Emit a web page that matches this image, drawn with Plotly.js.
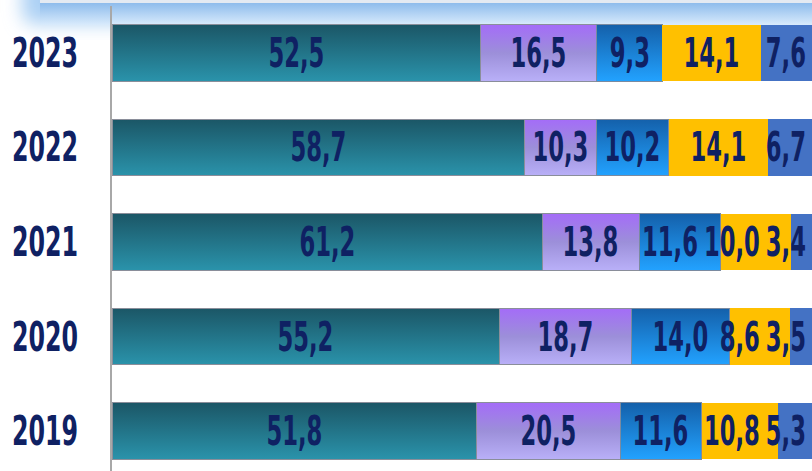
<!DOCTYPE html>
<html>
<head>
<meta charset="utf-8">
<script src="https://cdn.plot.ly/plotly-3.0.1.min.js"></script>
<style>
  html, body { margin:0; padding:0; background:#ffffff; }
  #chart { width:812px; height:471px; }
</style>
</head>
<body>
<div id="chart"></div>
<script>
// ---- data ----
const years = ['2019', '2020', '2021', '2022', '2023'];
const seriesA = [51.8, 55.2, 61.2, 58.7, 52.5];
const seriesB = [20.5, 18.7, 13.8, 10.3, 16.5];
const seriesC = [11.6, 14.0, 11.6, 10.2, 9.3];
const seriesD = [10.8, 8.6, 10.0, 14.1, 14.1];
const seriesE = [5.3, 3.5, 3.4, 6.7, 7.6];

const fmt = v => v.toFixed(1).replace('.', ',');
const FONT = '"DejaVu Sans Condensed", "DejaVu Sans", sans-serif';
const TEXTCOLOR = '#0f2163';
const SQUEEZE = 0.63;
const TICK_SQUEEZE = 0.66;
const RIGHT_LIMIT = 806;   // visible right edge used to keep the last labels on the canvas
const LABEL_GAP = 6;

const styles = [
  {fill:'#227a8c', line:{color:'#8a8e9a', width:1}},
  {fill:'#a99bf0', line:{color:'#8a8e9a', width:1}},
  {fill:'#1c80d8', line:{color:'#7a8aa0', width:1}},
  {fill:'#ffc000', line:{width:0}},
  {fill:'#4472c4', line:{width:0}}
];
const allSeries = [seriesA, seriesB, seriesC, seriesD, seriesE];

const traces = allSeries.map((vals, i) => ({
  type:'bar',
  orientation:'h',
  y: years,
  x: vals,
  name: 'S' + (i + 1),
  textposition:'none',
  marker:{color:styles[i].fill, line:styles[i].line},
  hoverinfo:'skip'
}));

// value labels placed via the axes (cumulative positions computed from the data)
const annotations = [];
const cum = years.map(() => 0);
allSeries.forEach((vals, si) => {
  vals.forEach((v, k) => {
    const start = cum[k];
    cum[k] += v;
    annotations.push({
      xref:'x', yref:'y',
      x: start + v / 2,
      y: k,               // category index of years[k]
      text: fmt(v),
      showarrow:false,
      xanchor:'center',
      yanchor:'middle',
      font:{family:FONT, size:40, color:TEXTCOLOR, weight:'bold'}
    });
  });
});

const bannerSvg =
  '<svg xmlns="http://www.w3.org/2000/svg" width="812" height="40" viewBox="0 0 812 40">' +
  '<defs><linearGradient id="b" x1="0" y1="0" x2="0" y2="1">' +
  '<stop offset="0" stop-color="#8ebcec"/><stop offset="1" stop-color="#d9ebfc"/></linearGradient>' +
  '<filter id="f" x="-50%" y="-100%" width="200%" height="300%"><feGaussianBlur stdDeviation="9"/></filter></defs>' +
  '<rect x="22" y="-22" width="840" height="46" rx="12" fill="#acd0f4" filter="url(#f)"/>' +
  '<rect x="40" y="3" width="780" height="22" fill="url(#b)"/>' +
  '<rect x="40" y="0" width="780" height="3" fill="#e4eaf2"/>' +
  '</svg>';

const layout = {
  width:812, height:471,
  margin:{l:112, r:0, t:0, b:0, pad:0},
  paper_bgcolor:'#ffffff',
  plot_bgcolor:'rgba(0,0,0,0)',
  barmode:'stack',
  bargap:0.4,
  showlegend:false,
  xaxis:{range:[0, 99.6], visible:false, fixedrange:true},
  yaxis:{
    type:'category',
    range:[-0.423, 4.497],
    domain:[0, 0.9873],
    showline:true, linecolor:'#a8a8a8', linewidth:2,
    showgrid:false, zeroline:false,
    ticks:'', ticklabelstandoff:24,
    tickfont:{family:FONT, size:40, color:TEXTCOLOR, weight:'bold'},
    fixedrange:true
  },
  annotations: annotations,
  images:[{
    source:'data:image/svg+xml;charset=utf-8,' + encodeURIComponent(bannerSvg),
    xref:'paper', yref:'paper',
    x:-112/700, y:1, sizex:812/700, sizey:40/471,
    xanchor:'left', yanchor:'top', sizing:'stretch', layer:'below'
  }],
  font:{family:FONT}
};

function squeeze(el, s, anchorRight) {
  const b = el.getBBox();
  const cx = anchorRight ? b.x + b.width : b.x + b.width / 2;
  const t = el.getAttribute('transform') || '';
  el.setAttribute('transform', t + ' translate(' + cx + ',0) scale(' + s + ',1) translate(' + (-cx) + ',0)');
}
function shiftLeft(el, dx) {
  const t = el.getAttribute('transform') || '';
  el.setAttribute('transform', 'translate(' + (-dx) + ',0) ' + t);
}

Plotly.newPlot('chart', traces, layout, {staticPlot:true, displayModeBar:false}).then(gd => {
  const svgNS = 'http://www.w3.org/2000/svg';
  const svg = gd.querySelector('svg.main-svg');
  let defs = svg.querySelector('defs');
  if (!defs) { defs = document.createElementNS(svgNS, 'defs'); svg.insertBefore(defs, svg.firstChild); }
  const grads = [
    ['gA', [['0', '#1b5666'], ['1', '#2a93ab']]],
    ['gB', [['0', '#a46cf8'], ['0.5', '#9c8fd9'], ['1', '#b9b0f8']]],
    ['gC', [['0', '#1460aa'], ['1', '#22a2ff']]]
  ];
  grads.forEach(([id, stops]) => {
    const lg = document.createElementNS(svgNS, 'linearGradient');
    lg.setAttribute('id', id);
    lg.setAttribute('x1', '0'); lg.setAttribute('y1', '0');
    lg.setAttribute('x2', '0'); lg.setAttribute('y2', '1');
    stops.forEach(([o, c]) => {
      const s = document.createElementNS(svgNS, 'stop');
      s.setAttribute('offset', o); s.setAttribute('stop-color', c);
      lg.appendChild(s);
    });
    defs.appendChild(lg);
  });
  const traceGroups = gd.querySelectorAll('.barlayer .trace.bars');
  ['gA', 'gB', 'gC'].forEach((id, i) => {
    if (!traceGroups[i]) return;
    traceGroups[i].querySelectorAll('.point path').forEach(p => { p.style.fill = 'url(#' + id + ')'; });
  });

  // narrow the condensed font further to mimic the original display typeface
  const texts = Array.from(gd.querySelectorAll('.annotation')).map(a => a.querySelector('text.annotation-text'));
  texts.forEach(t => { if (t) squeeze(t, SQUEEZE, false); });

  // keep labels on the canvas and avoid collisions, working right to left in each row
  const nS = allSeries.length, nY = years.length;
  for (let k = 0; k < nY; k++) {
    let limit = RIGHT_LIMIT;
    for (let si = nS - 1; si >= 0; si--) {
      const t = texts[si * nY + k];
      if (!t) continue;
      const r = t.getBoundingClientRect();
      if (r.right > limit) shiftLeft(t, r.right - limit);
      limit = t.getBoundingClientRect().left - LABEL_GAP;
    }
  }

  gd.querySelectorAll('.ytick text').forEach(t => squeeze(t, TICK_SQUEEZE, true));
});
</script>
</body>
</html>
